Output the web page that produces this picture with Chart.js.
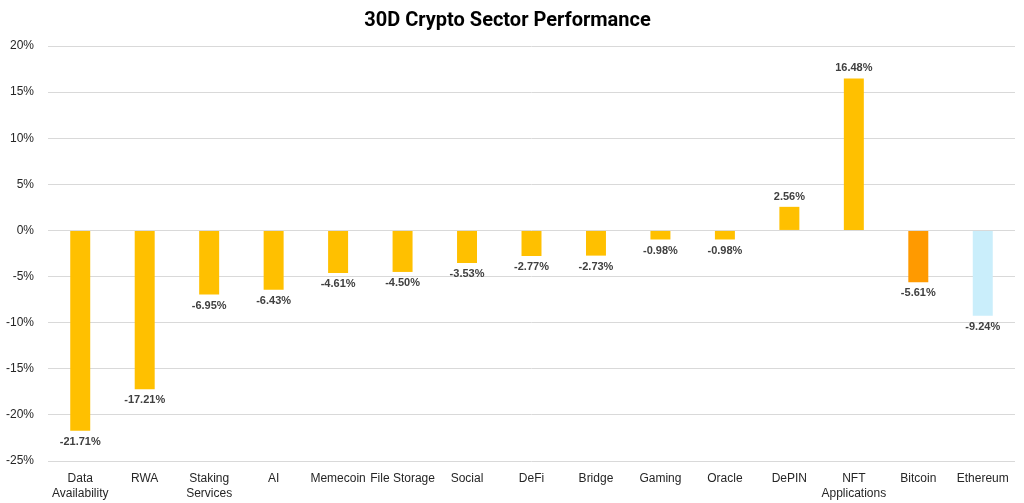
<!DOCTYPE html>
<html>
<head>
<meta charset="utf-8">
<script src="https://cdn.jsdelivr.net/npm/chart.js@4"></script>
<style>
    html, body { margin: 0; padding: 0; background: #fff; }
    #wrap { width: 1024px; height: 503px; }
</style>
</head>
<body>
<div id="wrap"><canvas id="sectorChart"></canvas></div>
<script>
const sectors = [
    ["Data", "Availability"], "RWA", ["Staking", "Services"], "AI", "Memecoin", "File Storage",
    "Social", "DeFi", "Bridge", "Gaming", "Oracle", "DePIN", ["NFT", "Applications"], "Bitcoin", "Ethereum"
];
const performance = [-21.71, -17.21, -6.95, -6.43, -4.61, -4.50, -3.53, -2.77, -2.73, -0.98, -0.98, 2.56, 16.48, -5.61, -9.24];
const barColors = [
    "#FFC000", "#FFC000", "#FFC000", "#FFC000", "#FFC000", "#FFC000", "#FFC000", "#FFC000",
    "#FFC000", "#FFC000", "#FFC000", "#FFC000", "#FFC000", "#FF9A00", "#CAEEFB"
];
const yTicks = [-25, -20, -15, -10, -5, 0, 5, 10, 15, 20];

const fontFamily = "'Liberation Sans', Arial, sans-serif";

// value labels at bar ends
const valueLabels = {
    id: "valueLabels",
    afterDatasetsDraw(chart) {
        const ctx = chart.ctx;
        const meta = chart.getDatasetMeta(0);
        ctx.save();
        ctx.font = "bold 11px " + fontFamily;
        ctx.fillStyle = "#404040";
        ctx.textAlign = "center";
        ctx.textBaseline = "middle";
        meta.data.forEach((bar, i) => {
            const v = performance[i];
            const y = v >= 0 ? bar.y - 10 : bar.y + 11;
            ctx.fillText(v.toFixed(2) + "%", bar.x, y);
        });
        ctx.restore();
    }
};

new Chart(document.getElementById("sectorChart"), {
    type: "bar",
    data: {
        labels: sectors,
        datasets: [{
            data: performance,
            backgroundColor: barColors,
            barPercentage: 0.31,
            categoryPercentage: 1.0
        }]
    },
    options: {
        responsive: true,
        maintainAspectRatio: false,
        animation: false,
        layout: { padding: { left: 0, right: 9, top: 0, bottom: 0 } },
        plugins: {
            legend: { display: false },
            tooltip: { enabled: false },
            title: {
                display: true,
                text: "30D Crypto Sector Performance",
                font: { family: "Roboto, sans-serif", size: 20, weight: "bold" },
                color: "#000",
                padding: { top: 9, bottom: 13 }
            }
        },
        scales: {
            x: {
                grid: { display: false },
                border: { display: false },
                ticks: {
                    font: { family: fontFamily, size: 12, lineHeight: 1.25 },
                    color: "#262626",
                    maxRotation: 0,
                    autoSkip: false,
                    padding: 2
                }
            },
            y: {
                min: -25,
                max: 20,
                afterBuildTicks(scale) {
                    scale.ticks = yTicks.map(v => ({ value: v }));
                },
                afterFit(scale) {
                    scale.width = 48;
                },
                grid: { color: "#D9D9D9", lineWidth: 1, drawTicks: false },
                border: { display: false },
                ticks: {
                    font: { family: fontFamily, size: 12 },
                    color: "#262626",
                    padding: 14,
                    callback: v => v + "%"
                }
            }
        }
    },
    plugins: [valueLabels]
});
</script>
</body>
</html>
